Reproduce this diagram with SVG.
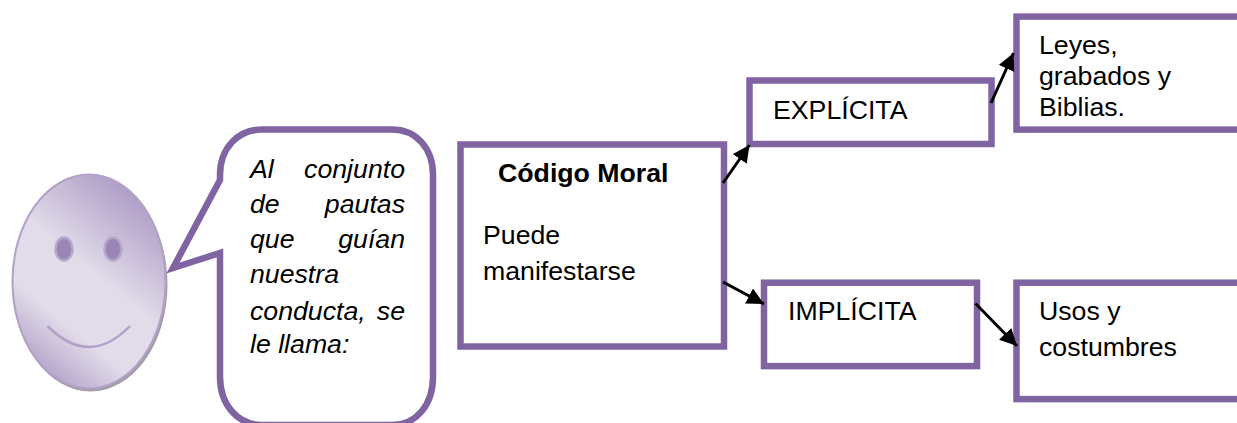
<svg xmlns="http://www.w3.org/2000/svg" width="1237" height="423" viewBox="0 0 1237 423">
<style>
.b{fill:#fff;stroke:#8064a2;stroke-width:6.5}
text{font-family:"Liberation Sans",Arial,sans-serif;font-size:26.7px;fill:#000}
.i{font-style:italic}
.c{stroke:#000;stroke-width:3;fill:none;marker-end:url(#a)}
</style>
<defs>
<marker id="a" markerUnits="userSpaceOnUse" markerWidth="20" markerHeight="18" refX="17" refY="8.500" orient="auto"><path d="M0 0L17 8.500L0 17Z" fill="#000"/></marker>
<linearGradient id="f" gradientUnits="userSpaceOnUse" x1="165" y1="205" x2="25" y2="375">
<stop offset="0" stop-color="#a996c1"/><stop offset="0.2" stop-color="#c2b5d4"/><stop offset="0.45" stop-color="#e2dcea"/><stop offset="0.7" stop-color="#e2dcea"/><stop offset="1" stop-color="#a996c1"/>
</linearGradient>
</defs>
<g id="face">
<ellipse cx="90.500" cy="284.500" rx="77" ry="107" fill="#a39ca9"/>
<ellipse cx="89" cy="281.500" rx="76.500" ry="107" fill="url(#f)" stroke="#b2a1c7" stroke-width="2"/>
<ellipse cx="64" cy="249" rx="8.500" ry="11.500" fill="#9a86b4" stroke="#b6a7ca" stroke-width="2.500"/>
<ellipse cx="113" cy="249" rx="8.500" ry="11.500" fill="#9a86b4" stroke="#b6a7ca" stroke-width="2.500"/>
<path d="M47.500 326Q89 368 130 326" fill="none" stroke="#b2a1c7" stroke-width="2.500"/>
</g>
<g id="bubble">
<path class="b" d="M220 175C220 148 238 129.500 262 129.500H392C416 129.500 433 148 433 175V377C433 405 416 425 392 425H262C238 425 220 405 220 377V253L173 268L220 180Z"/>
<text class="i"><tspan x="250" y="178">Al</tspan><tspan x="405" y="178" text-anchor="end">conjunto</tspan></text>
<text class="i"><tspan x="250" y="213">de</tspan><tspan x="405" y="213" text-anchor="end">pautas</tspan></text>
<text class="i"><tspan x="250" y="248">que</tspan><tspan x="405" y="248" text-anchor="end">guían</tspan></text>
<text class="i" x="250" y="283">nuestra</text>
<text class="i"><tspan x="250" y="320">conducta,</tspan><tspan x="405" y="320" text-anchor="end">se</tspan></text>
<text class="i" x="250" y="353">le llama:</text>
</g>
<g id="codigo">
<rect class="b" x="460.500" y="144.500" width="263.500" height="202"/>
<text x="498" y="182" style="font-weight:bold">Código Moral</text>
<text x="483" y="244">Puede</text>
<text x="483" y="280">manifestarse</text>
</g>
<g id="explicita">
<rect class="b" x="749.500" y="80.500" width="242" height="63.500"/>
<text x="773" y="119">EXPLÍCITA</text>
</g>
<g id="implicita">
<rect class="b" x="764" y="282.700" width="213" height="83.400"/>
<text x="788" y="320">IMPLÍCITA</text>
</g>
<g id="leyes">
<rect class="b" x="1016.500" y="16.600" width="240" height="113"/>
<text x="1039" y="54">Leyes,</text>
<text x="1039" y="85">grabados y</text>
<text x="1039" y="116">Biblias.</text>
</g>
<g id="usos">
<rect class="b" x="1016.500" y="282.700" width="240" height="116.400"/>
<text x="1039" y="320">Usos y</text>
<text x="1039" y="355.500">costumbres</text>
</g>
<g id="connectors">
<path class="c" d="M723 183L749.500 145"/>
<path class="c" d="M991 103L1013.500 53"/>
<path class="c" d="M723 282L764 304"/>
<path class="c" d="M975.500 303.500L1017 346"/>
</g>
</svg>
